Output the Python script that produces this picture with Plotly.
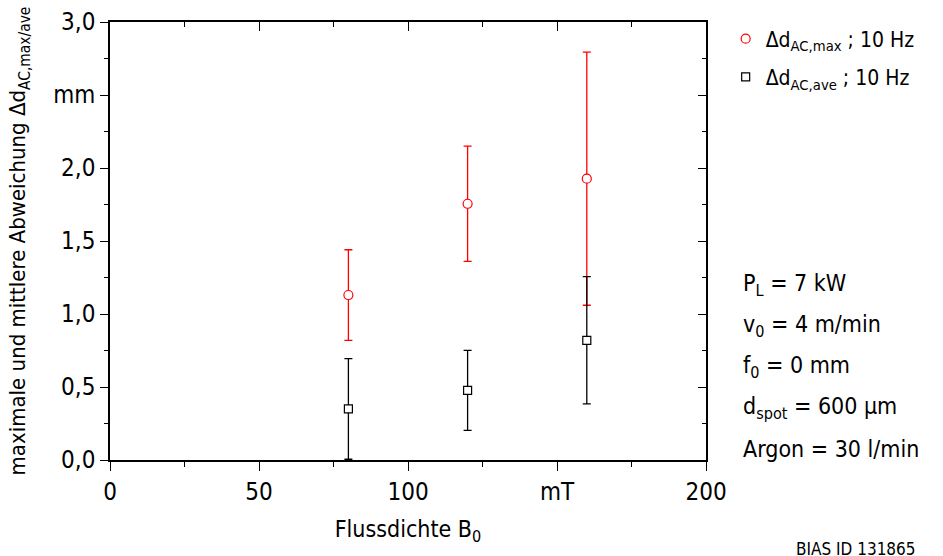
import plotly.graph_objects as go

# ---- data ----
flux = [80, 120, 160]                      # Flussdichte B0 in mT
dmax = [1.13, 1.755, 1.927]                # Δd_AC,max in mm
dmax_err = [0.31, 0.395, 0.867]
dave = [0.35, 0.477, 0.82]                 # Δd_AC,ave in mm
dave_err = [0.345, 0.274, 0.436]

x_tickvals = [0, 50, 100, 150, 200]
x_ticktext = ["0", "50", "100", "mT", "200"]
y_tickvals = [0, 0.5, 1.0, 1.5, 2.0, 2.5, 3.0]
y_ticktext = ["0,0", "0,5", "1,0", "1,5", "2,0", "mm", "3,0"]

series_names = ["Δd<sub>AC,max</sub> ; 10 Hz", "Δd<sub>AC,ave</sub> ; 10 Hz"]

params = ["P<sub>L</sub> = 7 kW", "v<sub>0</sub> = 4 m/min", "f<sub>0</sub> = 0 mm",
          "d<sub>spot</sub> = 600 µm", "Argon = 30 l/min"]

FONT = "DejaVu Sans Condensed"

fig = go.Figure()
fig.add_trace(go.Scatter(
    x=flux, y=dmax, mode="markers", name=series_names[0], legendgroup="max",
    marker=dict(symbol="circle", size=9, color="white", line=dict(color="#ff0000", width=1.2)),
    error_y=dict(type="data", array=dmax_err, color="#ff0000", thickness=1.3, width=4),
))
fig.add_trace(go.Scatter(
    x=flux, y=dave, mode="markers", name=series_names[1], legendgroup="ave",
    marker=dict(symbol="square", size=8, color="white", line=dict(color="black", width=1.2)),
    error_y=dict(type="data", array=dave_err, color="black", thickness=1.3, width=4),
))
fig.add_trace(go.Scatter(x=[], y=[], xaxis="x2", yaxis="y2", showlegend=False, hoverinfo="skip"))

axis_common = dict(showline=True, linecolor="black", linewidth=1.6, showgrid=False,
                   zeroline=False, tickcolor="black", tickwidth=1.4, automargin=False,
                   tickfont=dict(family=FONT, size=24, color="black"))

fig.update_layout(
    width=943, height=556,
    margin=dict(l=110, r=237, t=22, b=96),
    paper_bgcolor="white", plot_bgcolor="white",
    font=dict(family=FONT, color="black"),
    xaxis=dict(range=[0, 200], tickvals=x_tickvals, ticktext=x_ticktext,
               ticks="outside", ticklen=9,
               minor=dict(dtick=25, ticks="outside", ticklen=5, tickcolor="black", tickwidth=1.4),
               title=dict(text="Flussdichte B<sub>0</sub>", font=dict(family=FONT, size=23), standoff=16),
               **axis_common),
    yaxis=dict(range=[0, 3], tickvals=y_tickvals, ticktext=y_ticktext,
               ticks="outside", ticklen=8,
               minor=dict(dtick=0.25, ticks="outside", ticklen=4, tickcolor="black", tickwidth=1.4),
               **axis_common),
    xaxis2=dict(range=[0, 200], overlaying="x", side="top", tickvals=x_tickvals,
                showticklabels=False, ticks="inside", ticklen=9,
                minor=dict(dtick=25, ticks="inside", ticklen=5, tickcolor="black", tickwidth=1.4),
                **axis_common),
    yaxis2=dict(range=[0, 3], overlaying="y", side="right", tickvals=y_tickvals,
                showticklabels=False, ticks="inside", ticklen=8,
                minor=dict(dtick=0.25, ticks="inside", ticklen=4, tickcolor="black", tickwidth=1.4),
                **axis_common),
    legend=dict(x=1.033, y=1.008, xanchor="left", yanchor="top",
                font=dict(family=FONT, size=21, color="black"),
                bgcolor="rgba(0,0,0,0)", itemwidth=30, tracegroupgap=8),
)

# y-axis title (placed as annotation for exact position)
fig.add_annotation(text="maximale und mittlere Abweichung Δd<sub>AC,max/ave</sub>",
                   xref="paper", yref="paper", x=-0.152, y=0.5, textangle=-90,
                   xanchor="center", yanchor="middle", showarrow=False,
                   font=dict(family=FONT, size=22, color="black"))

for i, txt in enumerate(params):
    fig.add_annotation(text=txt, xref="paper", yref="paper", x=1.058, y=0.40 - i * 0.094,
                       xanchor="left", yanchor="middle", showarrow=False,
                       font=dict(family=FONT, size=23, color="black"))

fig.add_annotation(text="BIAS ID 131865", xref="paper", yref="paper", x=1.355, y=-0.203,
                   xanchor="right", yanchor="middle", showarrow=False,
                   font=dict(family=FONT, size=17, color="black"))

fig.write_html("out.html", config={"displayModeBar": False},
               post_script="document.body.style.margin='0';document.body.style.overflow='hidden';")
